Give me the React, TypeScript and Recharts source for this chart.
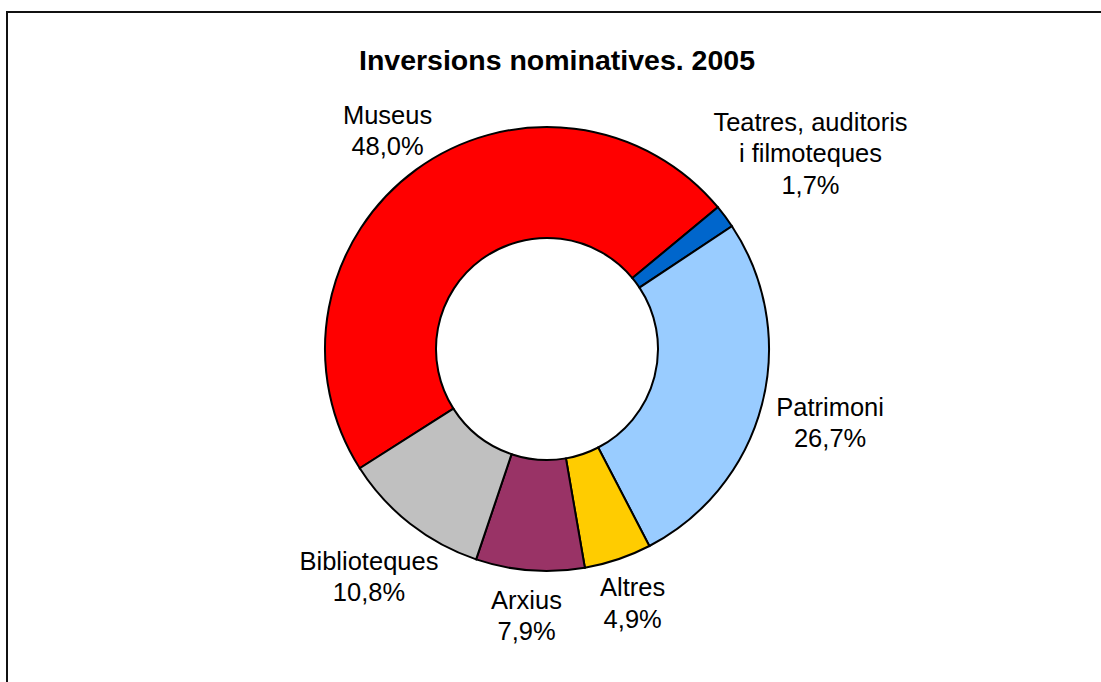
import { PieChart, Pie, Cell } from "recharts";

const categories = [
  "Museus",
  "Teatres, auditoris\ni filmoteques",
  "Patrimoni",
  "Altres",
  "Arxius",
  "Biblioteques",
];
const shares = [48.0, 1.7, 26.7, 4.9, 7.9, 10.8];
const colors = ["#FF0000", "#0066CC", "#99CCFF", "#FFCC00", "#993366", "#C0C0C0"];

const data = categories.map((name, i) => ({ name, value: shares[i] }));

const FONT = "'Liberation Sans', Arial, Helvetica, sans-serif";
const LABEL_SIZE = 25.5;
const LINE_H = 31.5;
const RAD = Math.PI / 180;

function formatPct(v: number) {
  return `${v.toFixed(1).replace(".", ",")}%`;
}

function renderLabel(props: any) {
  const { cx, cy, midAngle, outerRadius, name, value } = props;
  const lines = [...String(name).split("\n"), formatPct(value)];
  const longest = Math.max(...lines.map((l) => l.length));
  const hw = (longest * LABEL_SIZE * 0.45) / 2;
  const hh = ((lines.length - 1) * LINE_H + LABEL_SIZE * 0.72) / 2;
  const dx = Math.cos(-midAngle * RAD);
  const dy = Math.sin(-midAngle * RAD);
  const extent = Math.sqrt((hw * dx) ** 2 + (hh * dy) ** 2);
  const r = outerRadius + 20 + extent;
  const x = cx + r * dx;
  const y = cy + r * dy;
  const firstBaseline = y - hh + LABEL_SIZE * 0.72;
  return (
    <text
      x={x}
      y={firstBaseline}
      textAnchor="middle"
      fill="#000"
      style={{ fontFamily: FONT, fontSize: LABEL_SIZE }}
    >
      {lines.map((l, i) => (
        <tspan key={i} x={x} y={firstBaseline + i * LINE_H}>
          {l}
        </tspan>
      ))}
    </text>
  );
}

export default function App() {
  return (
    <div
      style={{
        position: "absolute",
        left: 0,
        top: 0,
        width: 1101,
        height: 682,
        background: "#fff",
        overflow: "hidden",
      }}
    >
      {/* frame: top and left edges only */}
      <div style={{ position: "absolute", left: 6, top: 11, width: 1095, height: 2, background: "#111" }} />
      <div style={{ position: "absolute", left: 6, top: 11, width: 2, height: 671, background: "#111" }} />
      <div
        style={{
          position: "absolute",
          left: 0,
          top: 44,
          width: 1114,
          textAlign: "center",
          fontFamily: FONT,
          fontWeight: "bold",
          fontSize: 28.5,
          color: "#000",
        }}
      >
        Inversions nominatives. 2005
      </div>
      <div style={{ position: "absolute", left: 0, top: 0 }}>
        <PieChart width={1101} height={682} margin={{ top: 0, right: 0, bottom: 0, left: 0 }}>
          <Pie
            data={data}
            dataKey="value"
            nameKey="name"
            cx={547}
            cy={349}
            innerRadius={111}
            outerRadius={222}
            startAngle={212.5}
            endAngle={-147.5}
            stroke="#000"
            strokeWidth={2}
            label={renderLabel}
            labelLine={false}
            isAnimationActive={false}
          >
            {data.map((d, i) => (
              <Cell key={d.name} fill={colors[i]} />
            ))}
          </Pie>
        </PieChart>
      </div>
    </div>
  );
}
